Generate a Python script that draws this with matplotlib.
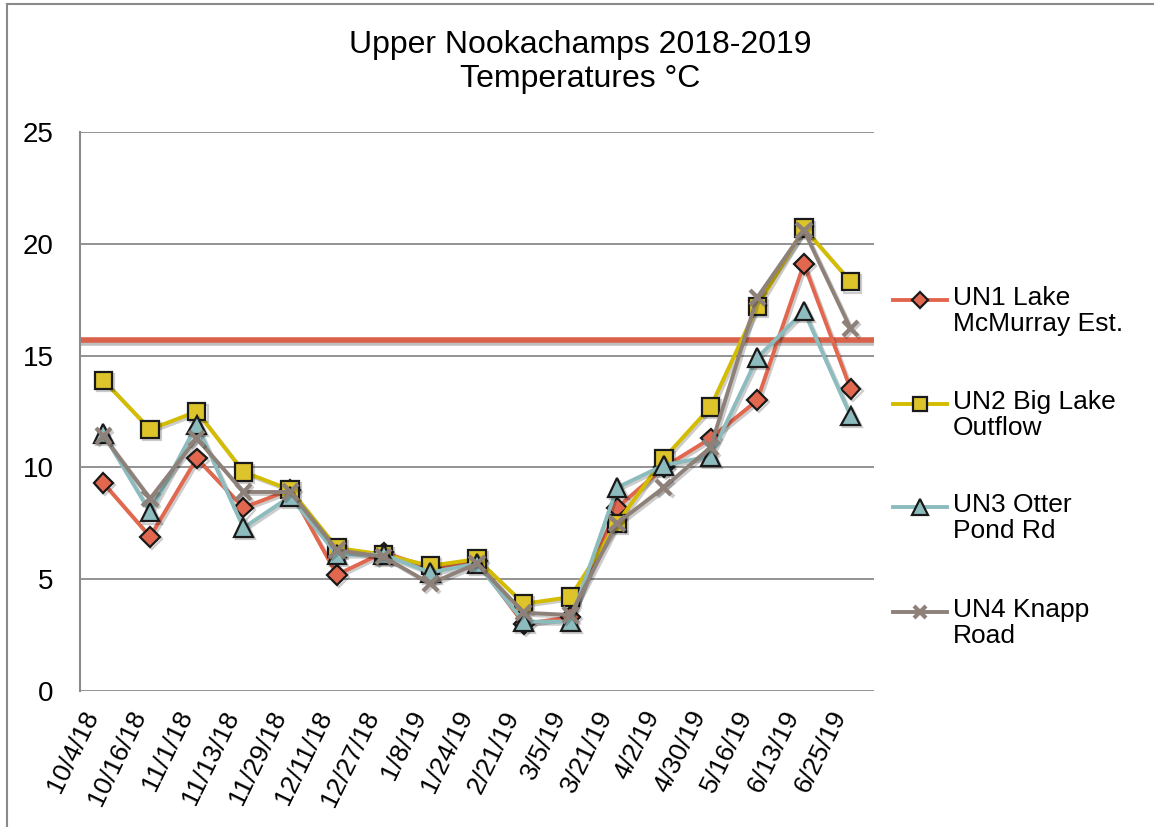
import matplotlib
matplotlib.use("Agg")
import matplotlib.pyplot as plt
import matplotlib.patheffects as pe
from matplotlib.lines import Line2D

plt.rcParams['font.family'] = ['Liberation Sans', 'DejaVu Sans']

# sample dates
dates = ["10/4/18", "10/16/18", "11/1/18", "11/13/18", "11/29/18", "12/11/18",
         "12/27/18", "1/8/19", "1/24/19", "2/21/19", "3/5/19", "3/21/19",
         "4/2/19", "4/30/19", "5/16/19", "6/13/19", "6/25/19"]

# temperatures (C)
un1 = [9.3, 6.9, 10.4, 8.2, 9.0, 5.2, 6.2, 5.5, 5.8, 3.0, 3.3, 8.2, 10.0, 11.3, 13.0, 19.1, 13.5]
un2 = [13.9, 11.7, 12.5, 9.8, 9.0, 6.4, 6.1, 5.6, 5.9, 3.9, 4.2, 7.5, 10.4, 12.7, 17.2, 20.7, 18.3]
un3 = [11.5, 8.0, 11.9, 7.3, 8.7, 6.1, 6.1, 5.3, 5.7, 3.1, 3.1, 9.1, 10.1, 10.5, 14.9, 17.0, 12.3]
un4 = [11.4, 8.6, 11.3, 8.9, 8.9, 6.3, 6.0, 4.8, 5.7, 3.5, 3.4, 7.5, 9.1, 10.9, 17.6, 20.6, 16.2]

labels = ["UN1 Lake\nMcMurray Est.", "UN2 Big Lake\nOutflow",
          "UN3 Otter\nPond Rd", "UN4 Knapp\nRoad"]
threshold = 15.7

# style per series: line colour, marker, face colour, size
styles = [
    ("#E2674F", "D", "#E2674F", 10),
    ("#D4BC00", "s", "#DCC42A", 12.5),
    ("#8DBCBE", "^", "#8DBCBE", 13.5),
    ("#8E817A", "x", "#8E817A", 11),
]

fig = plt.figure(figsize=(11.54, 8.27), dpi=100)
ax = fig.add_axes([80 / 1154, 1 - 691 / 827, (874 - 80) / 1154, (691 - 132) / 827])

x = list(range(len(dates)))
shadow = [pe.SimpleLineShadow(offset=(1.5, -1.5), shadow_color="k", alpha=0.2), pe.Normal()]

handles = []
for series, (col, mk, face, ms) in zip([un1, un2, un3, un4], styles):
    if mk == "x":
        ln, = ax.plot(x, series, color=col, lw=2.8, marker=mk, ms=ms, mew=3,
                      mec=col, zorder=3, path_effects=shadow)
    else:
        ln, = ax.plot(x, series, color=col, lw=2.8, marker=mk, ms=ms, mfc=face,
                      mec="#1a1a1a", mew=1.6, zorder=3, path_effects=shadow)
    handles.append(ln)

# threshold line
ax.axhline(threshold, color="#D9634A", lw=4, zorder=2,
           path_effects=[pe.SimpleLineShadow(offset=(0, -2), shadow_color="k", alpha=0.25), pe.Normal()])

ax.set_xlim(-0.5, len(dates) - 0.5)
ax.set_ylim(0, 25)
ax.set_yticks([0, 5, 10, 15, 20, 25])
ax.yaxis.grid(True, color="#8a8a8a", lw=1.3)
ax.set_axisbelow(True)
for s in ["top", "right", "bottom"]:
    ax.spines[s].set_visible(False)
ax.spines["left"].set_color("#8a8a8a")
ax.spines["left"].set_linewidth(1.5)
ax.tick_params(axis="y", length=0, pad=19, labelsize=20)
ax.tick_params(axis="x", length=0, pad=19, labelsize=19)
ax.set_xticks(x)
ax.set_xticklabels(dates, rotation=64, ha="right", va="bottom", rotation_mode="anchor")

# title
fig.text(0.503, 1 - 45 / 827, "Upper Nookachamps 2018-2019", ha="center", va="center", fontsize=23)
fig.text(0.503, 1 - 79 / 827, "Temperatures °C", ha="center", va="center", fontsize=23)

# legend, drawn by hand so the marker lines up with the first text line
leg_y = [300, 404, 507, 612]
for h, lab, yy in zip(handles, labels, leg_y):
    yf = 1 - yy / 827
    fig.add_artist(Line2D([893 / 1154, 947 / 1154], [yf, yf], color=h.get_color(), lw=2.8))
    fig.add_artist(Line2D([920 / 1154], [yf], marker=h.get_marker(), ms=h.get_markersize() * 0.85,
                          mfc=h.get_markerfacecolor(), mec=h.get_markeredgecolor(),
                          mew=h.get_markeredgewidth(), ls="none"))
    fig.text(953 / 1154, yf + 14 / 827, lab, ha="left", va="top", fontsize=19, linespacing=1.1)

# outer frame (left and top edges)
fig.add_artist(Line2D([7 / 1154, 7 / 1154], [0, 1 - 4 / 827], color="#8a8a8a", lw=1.5))
fig.add_artist(Line2D([7 / 1154, 1], [1 - 4 / 827, 1 - 4 / 827], color="#8a8a8a", lw=1.5))

fig.savefig("out.png", dpi=100)
